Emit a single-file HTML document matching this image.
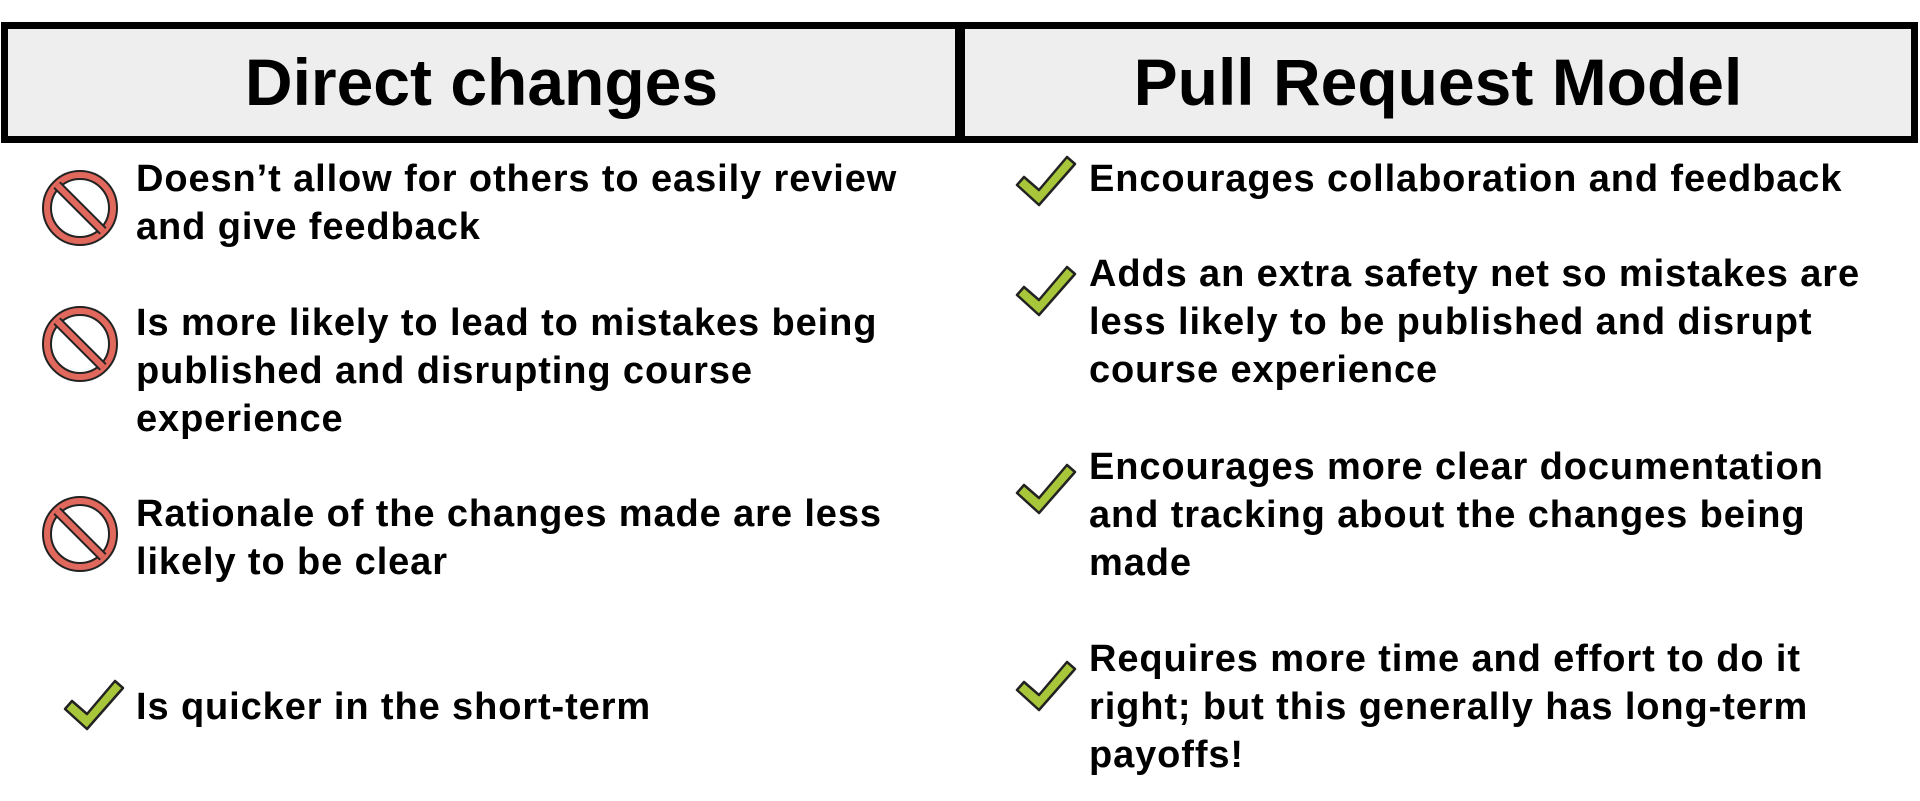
<!DOCTYPE html>
<html><head><meta charset="utf-8"><style>
body{margin:0;width:1920px;height:801px;background:#fff;position:relative;overflow:hidden;font-family:"Liberation Sans",Arial,sans-serif;font-weight:bold;color:#000}
.box{position:absolute;top:22px;height:107px;border:7px solid #000;background:#eeeeee;font-size:66px;line-height:107px;text-align:center}
.t{position:absolute;font-size:38px;letter-spacing:0.9px;line-height:47.8px;white-space:nowrap}
svg{position:absolute}
</style></head><body>
<div class="box" style="left:1px;width:947px">Direct changes</div>
<div class="box" style="left:958px;width:946px">Pull Request Model</div>

<div class="t" style="left:136px;top:156px">Doesn’t allow for others to easily review<br>and give feedback</div>
<div class="t" style="left:136px;top:300px">Is more likely to lead to mistakes being<br>published and disrupting course<br>experience</div>
<div class="t" style="left:136px;top:491px">Rationale of the changes made are less<br>likely to be clear</div>
<div class="t" style="left:136px;top:684px">Is quicker in the short-term</div>

<div class="t" style="left:1089px;top:156px">Encourages collaboration and feedback</div>
<div class="t" style="left:1089px;top:251px">Adds an extra safety net so mistakes are<br>less likely to be published and disrupt<br>course experience</div>
<div class="t" style="left:1089px;top:444px">Encourages more clear documentation<br>and tracking about the changes being<br>made</div>
<div class="t" style="left:1089px;top:636px">Requires more time and effort to do it<br>right; but this generally has long-term<br>payoffs!</div>

<svg width="0" height="0"><defs>
<g id="no"><circle cx="0" cy="0" r="33" fill="none" stroke="#222" stroke-width="10"/><circle cx="0" cy="0" r="33" fill="none" stroke="#e0685c" stroke-width="6"/>
<line x1="-23" y1="-23" x2="23" y2="23" stroke="#222" stroke-width="10"/><line x1="-23" y1="-23" x2="23" y2="23" stroke="#e0685c" stroke-width="6"/></g>
<polygon id="ck" points="0,28 7,20 22,33 50,0 58,7 22,48" fill="#a8c63a" stroke="#222" stroke-width="2.5" stroke-linejoin="round"/>
</defs></svg>
<svg width="1920" height="801" style="left:0;top:0">
<use href="#no" x="80" y="208"/><use href="#no" x="80" y="344"/><use href="#no" x="80" y="534"/>
<use href="#ck" x="65" y="681"/>
<use href="#ck" x="1017" y="157"/><use href="#ck" x="1017" y="267"/><use href="#ck" x="1017" y="465"/><use href="#ck" x="1017" y="662"/>
</svg>
</body></html>
